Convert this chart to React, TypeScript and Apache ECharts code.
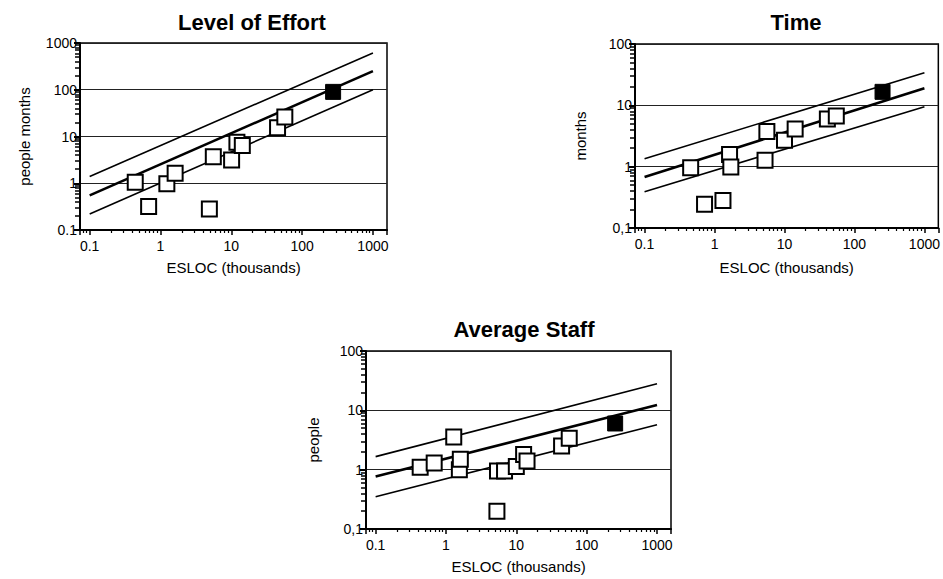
import React, { useEffect, useRef } from "react";
import * as echarts from "echarts";

// ---------- data ----------
const X_MIN = 0.073;
const X_MAX = 1580;
const fitX = [0.1, 1000];

const xTickLabels = ["0.1", "1", "10", "100", "1000"];

// Level of Effort (people months)
const effortX = [0.44, 0.68, 1.23, 1.61, 4.9, 5.57, 10.1, 12, 14.3, 45, 57];
const effortY = [1.05, 0.32, 0.97, 1.64, 0.28, 3.7, 3.16, 7.5, 6.4, 15.3, 26];
const effortFilledX = [274];
const effortFilledY = [90];
const effortUpper = [1.4, 610];
const effortFit = [0.55, 250];
const effortLower = [0.22, 100];
const effortYLabels = ["0.1", "1", "10", "100", "1000"];

// Time (months)
const timeX = [0.456, 0.72, 1.32, 1.64, 1.71, 5.27, 5.6, 10, 14.2, 41, 55];
const timeY = [0.96, 0.244, 0.28, 1.58, 0.99, 1.27, 3.76, 2.69, 4.1, 6.0, 6.7];
const timeFilledX = [252];
const timeFilledY = [16.6];
const timeUpper = [1.35, 34];
const timeFit = [0.68, 19];
const timeLower = [0.39, 9.5];
const timeYLabels = ["0,1", "1", "10", "100"];

// Average Staff (people)
const staffX = [0.43, 0.68, 1.29, 1.55, 1.6, 5.4, 6.8, 5.3, 10, 12.7, 14.2, 44, 56.5];
const staffY = [1.1, 1.3, 3.56, 1.0, 1.5, 0.95, 0.95, 0.2, 1.13, 1.8, 1.4, 2.5, 3.4];
const staffFilledX = [254];
const staffFilledY = [6.0];
const staffUpper = [1.66, 28];
const staffFit = [0.77, 12.3];
const staffLower = [0.35, 5.7];
const staffYLabels = ["0,1", "1", "10", "100"];

// ---------- layout ----------
const FONT = "Liberation Sans, Arial, Helvetica, sans-serif";

const panels = [
  {
    title: "Level of Effort", cx: 252, cy: 22,
    grid: { left: 80, top: 43, width: 307, height: 187 },
    yMax: 1000, yName: "people months", yNameGap: 48, xNameGap: 30,
    yLabels: effortYLabels,
    xs: effortX, ys: effortY, fx: effortFilledX, fy: effortFilledY,
    upper: effortUpper, fit: effortFit, lower: effortLower,
  },
  {
    title: "Time", cx: 796, cy: 22,
    grid: { left: 635, top: 44, width: 304, height: 184 },
    yMax: 100, yName: "months", yNameGap: 47, xNameGap: 32,
    yLabels: timeYLabels,
    xs: timeX, ys: timeY, fx: timeFilledX, fy: timeFilledY,
    upper: timeUpper, fit: timeFit, lower: timeLower,
  },
  {
    title: "Average Staff", cx: 524, cy: 329,
    grid: { left: 366, top: 351, width: 305, height: 178 },
    yMax: 100, yName: "people", yNameGap: 45, xNameGap: 30,
    yLabels: staffYLabels,
    xs: staffX, ys: staffY, fx: staffFilledX, fy: staffFilledY,
    upper: staffUpper, fit: staffFit, lower: staffLower,
  },
];

function decadeLabel(v: number, labels: string[]): string {
  const l = Math.log10(v);
  const r = Math.round(l);
  if (Math.abs(l - r) > 1e-6) return "";
  const idx = r + 1;
  return labels[idx] ?? "";
}

function buildOption() {
  const title: any[] = [];
  const grid: any[] = [];
  const xAxis: any[] = [];
  const yAxis: any[] = [];
  const series: any[] = [];

  panels.forEach((p, i) => {
    title.push({
      text: p.title,
      left: p.cx,
      top: p.cy,
      textAlign: "center",
      textVerticalAlign: "middle",
      padding: 0,
      textStyle: { fontSize: 22, fontWeight: "bold", color: "#000", fontFamily: FONT },
    });
    grid.push({
      ...p.grid,
      show: true,
      borderColor: "#000",
      borderWidth: 1.5,
      backgroundColor: "transparent",
      containLabel: false,
    });
    xAxis.push({
      type: "log",
      logBase: 10,
      gridIndex: i,
      min: X_MIN,
      max: X_MAX,
      name: "ESLOC (thousands)",
      nameLocation: "middle",
      nameGap: p.xNameGap,
      nameTextStyle: { fontSize: 15, color: "#000", fontFamily: FONT },
      axisLine: { show: true, lineStyle: { color: "#000", width: 2 } },
      axisTick: { show: true, inside: false, length: 5, lineStyle: { color: "#000", width: 1.5 } },
      minorTick: { show: true, splitNumber: 9, length: 3, lineStyle: { color: "#000", width: 1.2 } },
      axisLabel: {
        show: true,
        margin: 9,
        fontSize: 14,
        color: "#000",
        fontFamily: FONT,
        showMinLabel: true,
        showMaxLabel: true,
        formatter: (v: number) => decadeLabel(v, xTickLabels),
      },
      splitLine: { show: false },
      minorSplitLine: { show: false },
    });
    yAxis.push({
      type: "log",
      logBase: 10,
      gridIndex: i,
      min: 0.1,
      max: p.yMax,
      name: p.yName,
      nameLocation: "middle",
      nameGap: p.yNameGap,
      nameTextStyle: { fontSize: 15, color: "#000", fontFamily: FONT },
      axisLine: { show: true, lineStyle: { color: "#000", width: 2 } },
      axisTick: { show: true, inside: false, length: 6, lineStyle: { color: "#000", width: 2 } },
      minorTick: { show: true, splitNumber: 9, length: 5, lineStyle: { color: "#000", width: 1.5 } },
      axisLabel: {
        show: true,
        margin: 3,
        fontSize: 14,
        color: "#000",
        fontFamily: FONT,
        formatter: (v: number) => decadeLabel(v, p.yLabels),
      },
      splitLine: { show: true, lineStyle: { color: "#222", width: 1, type: "solid" } },
      minorSplitLine: { show: false },
    });

    const lineSeries = (vals: number[], width: number) => ({
      type: "line",
      xAxisIndex: i,
      yAxisIndex: i,
      data: fitX.map((x, k) => [x, vals[k]]),
      symbol: "none",
      silent: true,
      lineStyle: { color: "#000", width },
      z: 2,
    });
    series.push(lineSeries(p.upper, 1.6));
    series.push(lineSeries(p.fit, 2.6));
    series.push(lineSeries(p.lower, 1.6));

    series.push({
      type: "scatter",
      xAxisIndex: i,
      yAxisIndex: i,
      data: p.xs.map((x, k) => [x, p.ys[k]]),
      symbol: "rect",
      symbolSize: 15,
      itemStyle: { color: "#fff", borderColor: "#000", borderWidth: 2, opacity: 1 },
      z: 5,
    });
    series.push({
      type: "scatter",
      xAxisIndex: i,
      yAxisIndex: i,
      data: p.fx.map((x, k) => [x, p.fy[k]]),
      symbol: "rect",
      symbolSize: 15,
      itemStyle: { color: "#000", borderColor: "#000", borderWidth: 1, opacity: 1 },
      z: 6,
    });
  });

  return {
    animation: false,
    backgroundColor: "#fff",
    textStyle: { fontFamily: FONT },
    title,
    grid,
    xAxis,
    yAxis,
    series,
  };
}

export default function App() {
  const ref = useRef<HTMLDivElement>(null);
  useEffect(() => {
    if (!ref.current) return;
    const chart = echarts.init(ref.current, undefined, { renderer: "svg" });
    chart.setOption(buildOption() as any);
    return () => {
      chart.dispose();
    };
  }, []);
  return (
    <div
      ref={ref}
      style={{ position: "absolute", left: 0, top: 0, width: 943, height: 579 }}
    />
  );
}
